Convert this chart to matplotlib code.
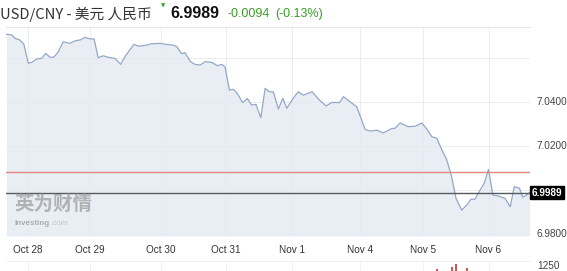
import matplotlib
matplotlib.use("Agg")
import matplotlib.pyplot as plt

# ---- data ----
hours = [-7.9, -6.0, -4.8, -3.0, -1.5, 0.1, 1.4, 3.2, 5.1, 6.6, 8.1, 9.6, 11.2, 13.0, 15.5,
         17.3, 19.4, 21.0, 22.6, 24.4, 25.9, 27.8, 29.6, 32.1, 34.2, 35.8, 39.1, 40.7, 43.8,
         45.6, 48.7, 50.6, 53.6, 54.9, 56.7, 57.9, 60.0, 61.6, 63.5, 65.3, 67.8, 69.9, 71.5,
         72.7, 74.3, 75.8, 77.2, 79.2, 80.9, 82.5, 84.1, 85.9, 87.5, 89.0, 90.5, 92.4, 94.0,
         95.5, 97.8, 99.7, 101.6, 104.8, 107.5, 110.0, 112.1, 114.9, 116.4, 118.8, 121.3,
         124.4, 126.2, 128.8, 131.1, 134.2, 135.4, 137.3, 140.3, 143.0, 145.3, 147.1, 149.0,
         150.8, 152.7, 154.5, 156.3, 157.9, 160.0, 161.9, 163.4, 164.9, 166.8, 168.3, 169.9,
         171.5, 173.5, 176.0, 177.9, 179.4, 181.3, 182.5, 184.0, 185.0]
price = [7.0705, 7.0702, 7.0687, 7.0679, 7.0660, 7.0574, 7.0578, 7.0593, 7.0596, 7.0619,
         7.0601, 7.0602, 7.0626, 7.0671, 7.0664, 7.0675, 7.0680, 7.0691, 7.0685, 7.0684,
         7.0599, 7.0608, 7.0601, 7.0596, 7.0569, 7.0604, 7.0660, 7.0651, 7.0656, 7.0662,
         7.0664, 7.0660, 7.0656, 7.0649, 7.0617, 7.0622, 7.0581, 7.0569, 7.0566, 7.0581,
         7.0578, 7.0563, 7.0569, 7.0558, 7.0453, 7.0456, 7.0438, 7.0396, 7.0415, 7.0385,
         7.0388, 7.0328, 7.0461, 7.0445, 7.0445, 7.0367, 7.0415, 7.0370, 7.0415, 7.0445,
         7.0430, 7.0445, 7.0408, 7.0381, 7.0397, 7.0396, 7.0423, 7.0400, 7.0377, 7.0274,
         7.0268, 7.0271, 7.0259, 7.0279, 7.0280, 7.0304, 7.0287, 7.0290, 7.0304, 7.0277,
         7.0242, 7.0235, 7.0182, 7.0137, 7.0061, 6.9963, 6.9910, 6.9933, 6.9959, 6.9959,
         7.0001, 7.0031, 7.0094, 6.9978, 6.9974, 6.9963, 6.9925, 7.0016, 7.0009, 6.9968,
         6.9978, 6.9989]

tick_hours = [0, 22.9, 49.0, 73.1, 97.3, 122.5, 145.6, 169.9]
tick_labels = ["Oct 28", "Oct 29", "Oct 30", "Oct 31", "Nov 1", "Nov 4", "Nov 5", "Nov 6"]
y_ticks = [6.98, 7.00, 7.02, 7.04, 7.06]
y_tick_labels = ["6.9800", "", "7.0200", "7.0400", ""]

last_price = 6.9989
prev_close = 7.0083
change = "-0.0094"
change_pct = "(-0.13%)"
title = "USD/CNY - 美元 人民币"

vol_hours = [150.8, 156.3, 157.9, 161.9]
vol_values = [300, 500, 900, 400]

# ---- figure ----
W, H = 567, 271
fig = plt.figure(figsize=(W / 100, H / 100), dpi=100)
fig.patch.set_facecolor("white")

x0, x1 = 6 / W, 530 / W
ax = fig.add_axes([x0, 1 - 236 / H, x1 - x0, (236 - 27) / H])
xmin, xmax = -8.1, 185.2
ymin, ymax = 6.9793, 7.0738
ax.set_xlim(xmin, xmax)
ax.set_ylim(ymin, ymax)
ax.set_facecolor("white")

line_col = "#93a8c7"
fill_col = "#e9eef5"
ax.fill_between(hours, price, ymin, color=fill_col, lw=0, zorder=1)
ax.plot(hours, price, color=line_col, lw=0.9, zorder=3)

for t in tick_hours:
    ax.axvline(t, color="#e6eaf0", lw=0.6, zorder=2)
for yv in y_ticks:
    ax.axhline(yv, color="#e6eaf0", lw=0.6, zorder=2)

ax.axhline(prev_close, color="#e0857f", lw=1.0, zorder=4)
ax.axhline(last_price, color="#555a60", lw=1.0, zorder=4)

ax.set_xticks([])
ax.set_yticks([])
for s in ["left", "bottom", "right"]:
    ax.spines[s].set_visible(False)
ax.spines["top"].set_color("#e4e7eb")
ax.spines["top"].set_linewidth(0.8)

font = "Liberation Sans"
for yv, lab in zip(y_ticks, y_tick_labels):
    if lab:
        ax.text(1.013, yv, lab, transform=ax.get_yaxis_transform(), ha="left", va="center",
                fontsize=7.2, color="#444444", family=font)
ax.text(1.004, last_price, f"{last_price:.4f}", transform=ax.get_yaxis_transform(),
        ha="left", va="center", fontsize=7.2, color="white", weight="bold", family=font,
        bbox=dict(boxstyle="square,pad=0.18", fc="black", ec="black"), clip_on=False)

for t, lab in zip(tick_hours, tick_labels):
    ax.text(t, -0.065, lab, transform=ax.get_xaxis_transform(), ha="center", va="center",
            fontsize=7.2, color="#333333", family=font)

# watermark
ax.text(0.017, 0.15, "英为财情", transform=ax.transAxes, fontsize=14, weight="bold",
        color="#8a8a8a", alpha=0.6, family=["Noto Sans CJK SC", "DejaVu Sans"], ha="left",
        va="center", zorder=5)
ax.text(0.017, 0.06, "Investing", transform=ax.transAxes, fontsize=5.8, weight="bold",
        color="#8a8a8a", alpha=0.65, family=font, ha="left", va="center", zorder=5)
ax.text(0.085, 0.06, ".com", transform=ax.transAxes, fontsize=5.8,
        color="#aaaaaa", alpha=0.65, family=font, ha="left", va="center", zorder=5)

# volume pane
vax = fig.add_axes([x0, 0, x1 - x0, (H - 261) / H])
vax.set_xlim(xmin, xmax)
vax.set_ylim(0, 1250)
vax.bar(vol_hours, vol_values, width=0.8, color="#d9534f")
for t in tick_hours:
    vax.axvline(t, color="#eef0f3", lw=0.6)
vax.set_xticks([])
vax.set_yticks([])
for s in ["left", "bottom", "right"]:
    vax.spines[s].set_visible(False)
vax.spines["top"].set_color("#eceef1")
vax.spines["top"].set_linewidth(0.6)
vax.text(1.013, 1250, "1250", transform=vax.get_yaxis_transform(), ha="left", va="top",
         fontsize=7.2, color="#444444", family=font)

# header
cjk = ["Noto Sans CJK SC", "DejaVu Sans"]
fig.text(0 / W, 1 - 14 / H, title, fontsize=10.6, color="#333333", family=cjk,
         ha="left", va="center")
fig.text(163 / W, 1 - 6 / H, "▼", fontsize=4, color="#3aa33a", ha="center", va="center")
fig.text(170 / W, 1 - 14 / H, f"{last_price:.4f}", fontsize=11.5, weight="bold",
         color="#111111", family=font, ha="left", va="center")
fig.text(228 / W, 1 - 14 / H, change, fontsize=9, color="#3a9d23", family=font,
         ha="left", va="center")
fig.text(275 / W, 1 - 14 / H, change_pct, fontsize=9, color="#3a9d23", family=font,
         ha="left", va="center")

fig.savefig("out.png", dpi=100, facecolor="white")
